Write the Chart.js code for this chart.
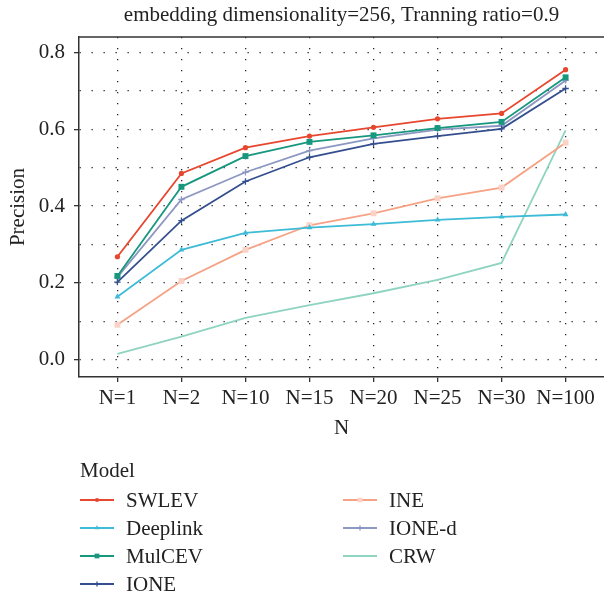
<!DOCTYPE html>
<html>
<head>
<meta charset="utf-8">
<script src="https://cdn.jsdelivr.net/npm/chart.js@4"></script>
<style>
  body { margin: 0; background: #fff; }
  #wrap { width: 604px; height: 591px; }
</style>
</head>
<body>
<div id="wrap"><canvas id="chart" width="604" height="591"></canvas></div>
<script>
// valores
const categories = ['N=1', 'N=2', 'N=10', 'N=15', 'N=20', 'N=25', 'N=30', 'N=100'];
const swlev    = [0.268, 0.485, 0.552, 0.582, 0.605, 0.627, 0.641, 0.755];
const deeplink = [0.164, 0.286, 0.330, 0.344, 0.353, 0.364, 0.372, 0.378];
const mulcev   = [0.218, 0.450, 0.530, 0.567, 0.584, 0.603, 0.619, 0.735];
const ione     = [0.202, 0.362, 0.464, 0.527, 0.562, 0.582, 0.601, 0.706];
const ine      = [0.091, 0.205, 0.286, 0.350, 0.381, 0.420, 0.448, 0.565];
const ioned    = [0.215, 0.417, 0.488, 0.544, 0.576, 0.599, 0.609, 0.727];
const crw      = [0.015, 0.060, 0.109, 0.142, 0.173, 0.208, 0.252, 0.597];
const yTicks   = [0.0, 0.1, 0.2, 0.3, 0.4, 0.5, 0.6, 0.7, 0.8];
const yLabels  = ['0.0', '', '0.2', '', '0.4', '', '0.6', '', '0.8'];

const titleText = 'embedding dimensionality=256, Tranning ratio=0.9';
const serif = "'Liberation Serif', 'DejaVu Serif', serif";

const toPoints = arr => arr.map((v, i) => ({ x: i, y: v }));

function series(label, values, color, style, radius, fill) {
    return {
        label: label,
        data: toPoints(values),
        borderColor: color,
        backgroundColor: fill || color,
        pointBackgroundColor: fill || color,
        pointBorderColor: fill || color,
        borderWidth: 1.8,
        pointStyle: style,
        pointRadius: radius,
        pointBorderWidth: style === 'cross' ? 1.3 : 0,
        pointHoverRadius: radius,
        tension: 0
    };
}

const datasets = [
    series('SWLEV', swlev, '#e8472f', 'circle', 2.6),
    series('Deeplink', deeplink, '#3dbbd7', 'triangle', 3.4),
    series('MulCEV', mulcev, '#17977e', 'rect', 4.2),
    series('IONE', ione, '#354f8e', 'cross', 3.2),
    series('INE', ine, '#f5a285', 'rect', 4.2, '#fbd3c6'),
    series('IONE-d', ioned, '#8c97c2', 'cross', 3.2),
    series('CRW', crw, '#8fd4c1', 'circle', 0)
];

// título, borde superior y leyenda dibujados a mano
const extras = {
    id: 'extras',
    afterDraw(chart) {
        const ctx = chart.ctx;
        const area = chart.chartArea;
        ctx.save();
        ctx.strokeStyle = '#333';
        ctx.lineWidth = 1.5;
        ctx.beginPath();
        ctx.moveTo(area.left, area.top);
        ctx.lineTo(chart.width, area.top);
        ctx.stroke();

        ctx.fillStyle = '#222';
        ctx.font = '21px ' + serif;
        ctx.textAlign = 'center';
        ctx.textBaseline = 'middle';
        ctx.fillText(titleText, (area.left + area.right) / 2, 15);

        // leyenda en dos columnas
        ctx.textAlign = 'left';
        ctx.font = '21px ' + serif;
        ctx.fillText('Model', 80, 471);
        const cols = [80, 343];
        chart.data.datasets.forEach((ds, i) => {
            const col = i < 4 ? 0 : 1;
            const row = i < 4 ? i : i - 4;
            const x = cols[col];
            const y = 500 + row * 28;
            ctx.strokeStyle = ds.borderColor;
            ctx.lineWidth = 1.8;
            ctx.beginPath();
            ctx.moveTo(x, y);
            ctx.lineTo(x + 34, y);
            ctx.stroke();
            if (ds.pointRadius > 0) {
                ctx.fillStyle = ds.pointBackgroundColor;
                ctx.strokeStyle = ds.pointBorderColor;
                ctx.lineWidth = ds.pointBorderWidth;
                Chart.helpers.drawPoint(ctx, {
                    pointStyle: ds.pointStyle,
                    radius: ds.pointRadius * 0.8,
                    borderWidth: ds.pointBorderWidth,
                    rotation: 0
                }, x + 17, y);
            }
            ctx.fillStyle = '#222';
            ctx.fillText(ds.label, x + 46, y + 1);
        });
        ctx.restore();
    }
};

new Chart(document.getElementById('chart').getContext('2d'), {
    type: 'line',
    data: { datasets: datasets },
    options: {
        responsive: false,
        animation: false,
        layout: { autoPadding: false, padding: { top: 37, right: 0, bottom: 150, left: 0 } },
        plugins: {
            legend: { display: false },
            title: { display: false },
            tooltip: { enabled: false }
        },
        scales: {
            x: {
                type: 'linear',
                min: -0.6,
                max: categories.length - 1 + 0.6,
                afterBuildTicks: scale => {
                    scale.ticks = categories.map((c, i) => ({ value: i }));
                },
                afterFit: scale => {
                    scale.height = 64;
                    scale.paddingLeft = 0;
                    scale.paddingRight = 0;
                },
                ticks: {
                    color: '#222',
                    font: { family: serif, size: 21 },
                    padding: 4,
                    maxRotation: 0,
                    autoSkip: false,
                    callback: v => categories[v]
                },
                grid: {
                    color: 'rgba(0,0,0,0.85)',
                    lineWidth: 1.3,
                    tickColor: '#333',
                    tickLength: 5,
                    tickWidth: 1.3
                },
                border: { color: '#333', width: 1.5, dash: [1.3, 9.7] },
                title: {
                    display: true,
                    text: 'N',
                    color: '#222',
                    font: { family: serif, size: 21 },
                    padding: { top: 0, bottom: 0 }
                }
            },
            y: {
                type: 'linear',
                min: -0.045,
                max: 0.84,
                afterBuildTicks: scale => {
                    scale.ticks = yTicks.map(v => ({ value: v }));
                },
                afterFit: scale => {
                    scale.width = 79;
                    scale.paddingTop = 0;
                    scale.paddingBottom = 0;
                },
                ticks: {
                    color: '#222',
                    font: { family: serif, size: 21 },
                    padding: 9,
                    autoSkip: false,
                    callback: (v, i) => yLabels[i]
                },
                grid: {
                    color: 'rgba(0,0,0,0.85)',
                    lineWidth: 1.3,
                    tickColor: ctx => (ctx.index % 2 === 0 ? '#333' : 'rgba(0,0,0,0)'),
                    tickLength: 5,
                    tickWidth: 1.3
                },
                border: { color: '#333', width: 1.5, dash: [1.3, 10.7] },
                title: {
                    display: true,
                    text: 'Precision',
                    color: '#222',
                    font: { family: serif, size: 21 },
                    padding: { top: 6, bottom: 0 }
                }
            }
        }
    },
    plugins: [extras]
});
</script>
</body>
</html>
